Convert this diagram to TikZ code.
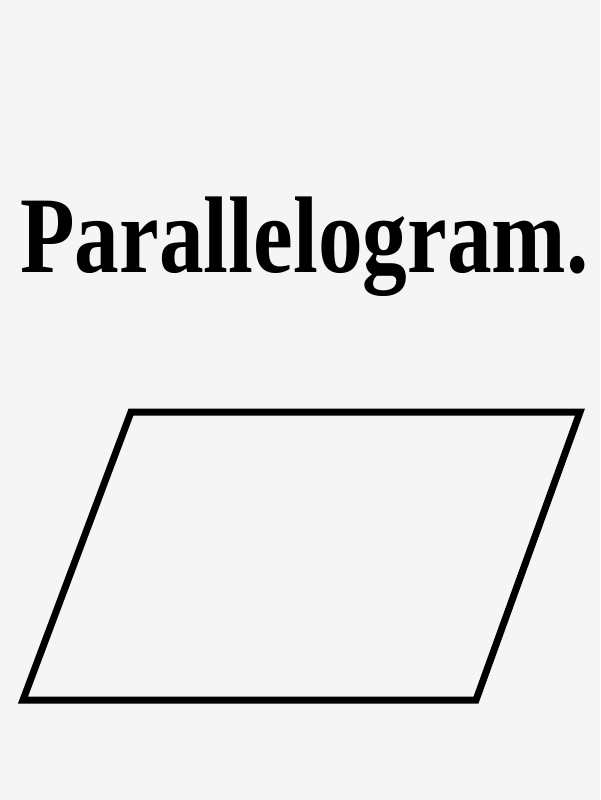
\documentclass[tikz,border=0pt]{standalone}
\usepackage{fontspec}
\setmainfont{Liberation Serif}
\definecolor{bgc}{HTML}{F5F5F5}
\tikzset{shapeline/.style={draw=black,line width=7pt,line join=miter},
titletext/.style={inner sep=0pt,anchor=base west,font=\bfseries\fontsize{109}{110}\selectfont}}
\begin{document}
\begin{tikzpicture}[x=1pt,y=-1pt]
\fill[bgc] (0,0) rectangle (600,800);
\useasboundingbox (0,0) rectangle (600,800);
\node[titletext] (title) at (20,272) {\scalebox{0.82}[1]{Parallelogram.}};
\coordinate (tl) at (131,412);
\coordinate (tr) at (580,412);
\coordinate (br) at (476,700);
\coordinate (bl) at (23,700);
\draw[shapeline] (tl) -- (tr) -- (br) -- (bl) -- cycle;
\end{tikzpicture}
\end{document}
